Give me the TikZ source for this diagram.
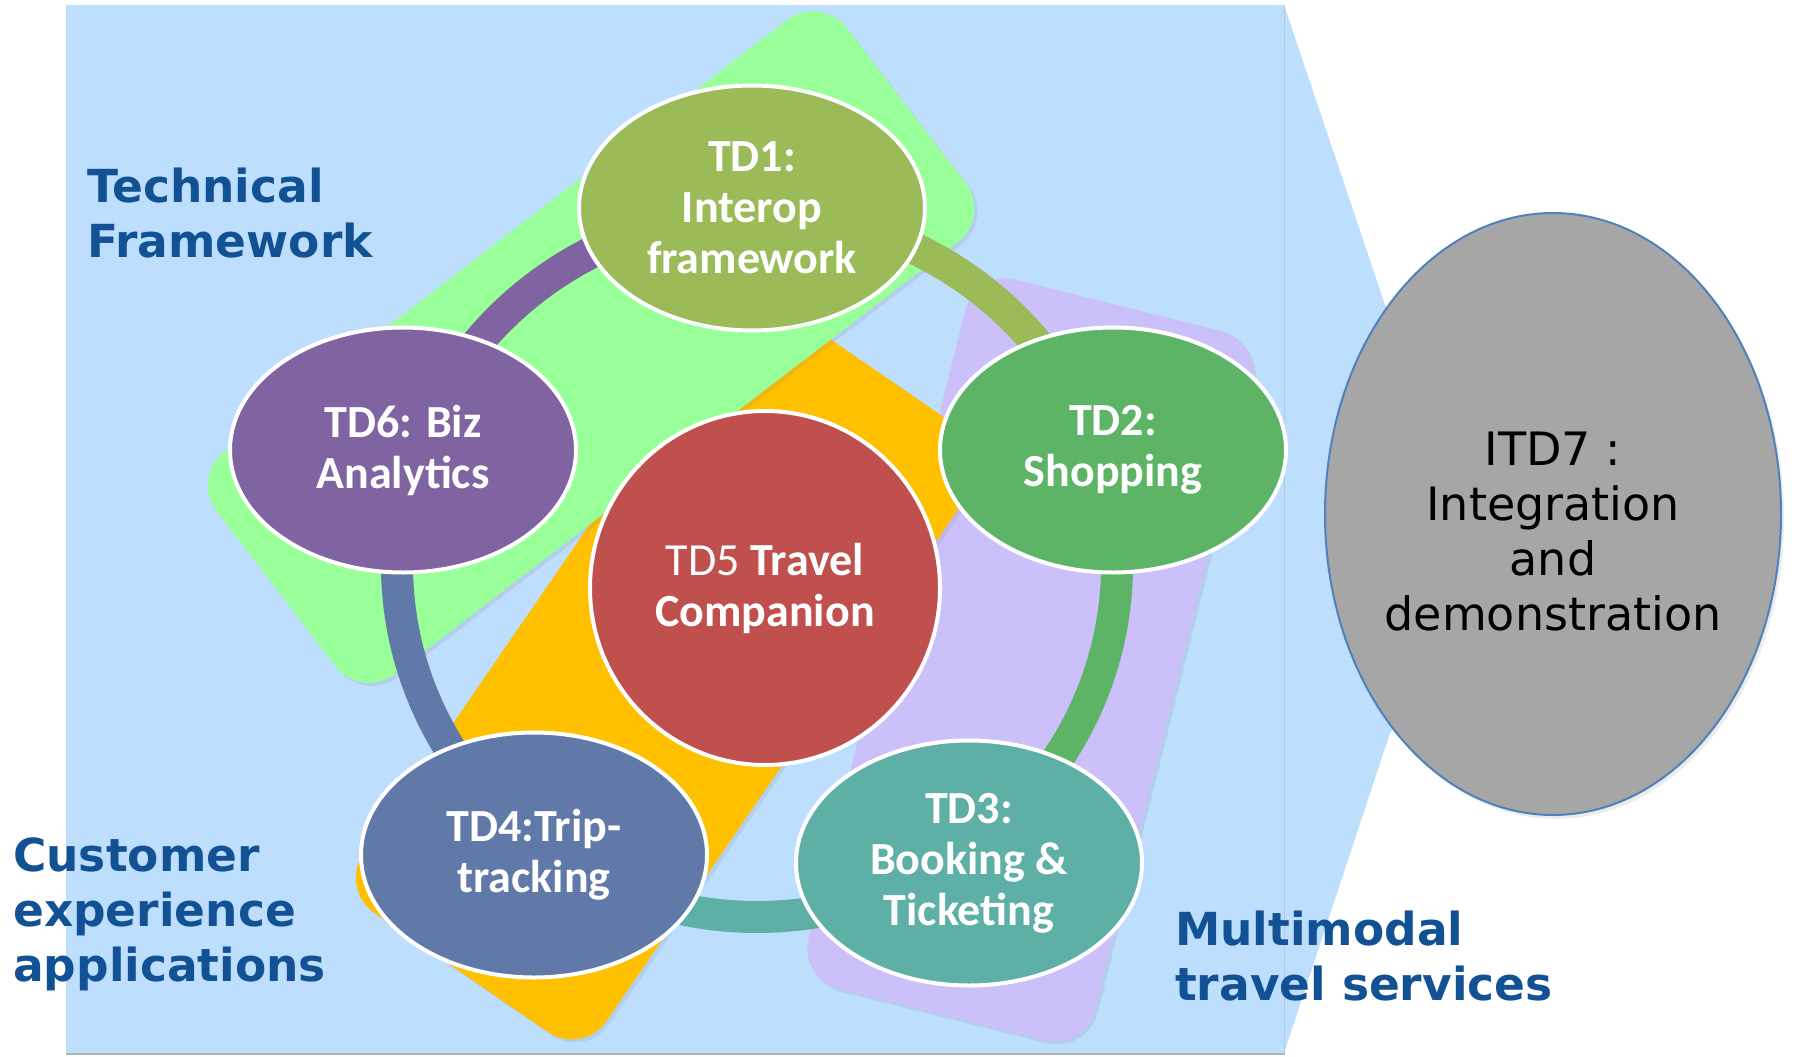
\documentclass[tikz,border=0pt]{standalone}
\usepackage{fontspec}
\setmainfont{DejaVu Sans}
\newfontfamily\calibfont{Carlito}
\newfontfamily\verdfont{DejaVu Sans}
\usetikzlibrary{shapes.geometric,shadows}
\definecolor{bgblue}{RGB}{190,222,254}
\definecolor{edgeblue}{RGB}{172,202,232}
\definecolor{shadowgray}{RGB}{175,180,186}
\definecolor{grn}{RGB}{153,255,153}
\definecolor{orng}{RGB}{255,192,0}
\definecolor{lav}{RGB}{204,192,250}
\definecolor{tdonec}{RGB}{155,187,89}
\definecolor{tdtwoc}{RGB}{93,180,102}
\definecolor{tdthreec}{RGB}{94,175,165}
\definecolor{tdfourc}{RGB}{96,121,168}
\definecolor{tdfivec}{RGB}{192,80,77}
\definecolor{tdsixc}{RGB}{128,100,162}
\definecolor{itdgray}{RGB}{166,166,166}
\definecolor{itdblue}{RGB}{79,129,189}
\definecolor{labblue}{RGB}{18,82,148}
\begin{document}
\begin{tikzpicture}[x=1pt,y=-1pt,
  td/.style={ellipse, draw=white, line width=4pt, minimum width=346pt, minimum height=245pt, inner sep=0pt, text=white, align=center, font=\calibfont\bfseries\fontsize{46pt}{51pt}\selectfont},
  panel/.style={rounded corners=42pt, inner sep=0pt, drop shadow={shadow xshift=3pt,shadow yshift=-3pt,opacity=0.15}},
  ringseg/.style={line width=32pt, line cap=butt},
  lab/.style={text=labblue, align=left, inner sep=0pt, font=\verdfont\bfseries\fontsize{45.5pt}{55pt}\selectfont}]
\useasboundingbox (0,0) rectangle (1796,1057);
\fill[white] (0,0) rectangle (1796,1057);
% callout and main panel
\fill[bgblue] (1284,5) -- (1385,305) -- (1553,514) -- (1390,733) -- (1284,1053) -- cycle;
\fill[bgblue] (66,5) rectangle (1285,1053);
\draw[edgeblue, line width=1.5pt] (1284.5,5) -- (1284.5,1053);
\draw[shadowgray, line width=2pt] (66,1054) -- (1285,1054);
% grouping panels
\node[panel, fill=lav, minimum width=295pt, minimum height=731pt, rotate=-14] (mts) at (1030,660) {};
\node[panel, fill=orng, minimum width=731pt, minimum height=295pt, rotate=55.5] (cea) at (668,671) {};
\node[panel, fill=grn, minimum width=794pt, minimum height=280pt, rotate=37.5] (tfw) at (591,347) {};
% ring
\coordinate (C) at (757,565);
\draw[ringseg, draw=tdonec] (C) ++(-90:360 and 352) arc[start angle=-90, end angle=-18, x radius=360, y radius=352];
\draw[ringseg, draw=tdtwoc] (C) ++(-18:360 and 352) arc[start angle=-18, end angle=54.6, x radius=360, y radius=352];
\draw[ringseg, draw=tdthreec] (C) ++(54.6:360 and 352) arc[start angle=54.6, end angle=127.6, x radius=360, y radius=352];
\draw[ringseg, draw=tdfourc] (C) ++(127.6:360 and 352) arc[start angle=127.6, end angle=198, x radius=360, y radius=352];
\draw[ringseg, draw=tdsixc] (C) ++(198:360 and 352) arc[start angle=198, end angle=270, x radius=360, y radius=352];
% ITD7
\node[ellipse, fill=itdgray, draw=itdblue, line width=2pt, minimum width=456pt, minimum height=602pt, inner sep=0pt, drop shadow={shadow xshift=3pt,shadow yshift=-4pt,opacity=0.15}] (itd7) at (1553,514) {};
\node[font=\verdfont\fontsize{46pt}{55pt}\selectfont, align=center, text=black, inner sep=0pt] (itd7t) at ([yshift=-18pt]itd7.center) {ITD7 :\\Integration\\and\\demonstration};
% TD nodes
\node[td, fill=tdonec] (td1) at (752,208) {TD1:\\Interop\\framework};
\node[td, fill=tdtwoc] (td2) at (1113,450) {TD2:\\Shopping};
\node[td, fill=tdthreec] (td3) at (969,863) {TD3:\\Booking \&\\Ticketing};
\node[td, fill=tdfourc] (td4) at (534,855) {TD4:Trip-\\tracking};
\node[td, fill=tdfivec, minimum width=350pt, minimum height=354pt] (td5) at (765,588) {{\mdseries TD5} Travel\\Companion};
\node[td, fill=tdsixc] (td6) at (403,450) {TD6: Biz\\Analytics};
% labels (base anchor = baseline of last line)
\node[lab, anchor=base west] (ltf) at (87,257) {Technical\\Framework};
\node[lab, anchor=base west] (lcea) at (13,981) {Customer\\experience\\applications};
\node[lab, anchor=base west] (lmts) at (1175,1000) {Multimodal\\travel services};
\end{tikzpicture}
\end{document}
